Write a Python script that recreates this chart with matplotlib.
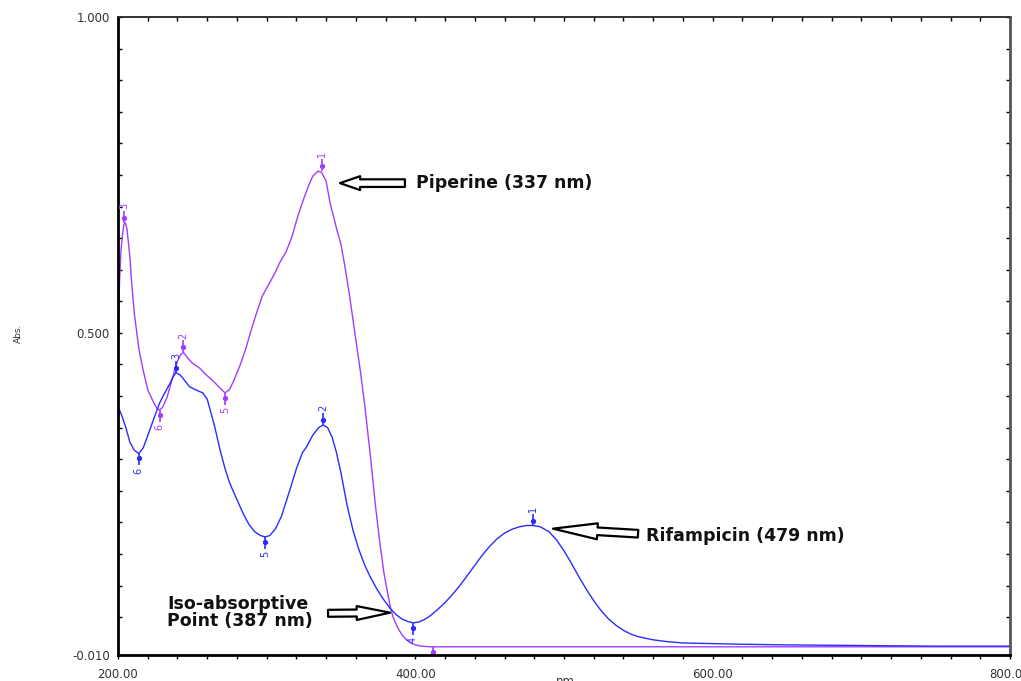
import matplotlib
matplotlib.use("Agg")
import matplotlib.pyplot as plt
from matplotlib.ticker import MultipleLocator, FixedLocator
from matplotlib.transforms import offset_copy

# --- spectra (wavelength nm, absorbance) ---
pip_nm = [200, 200.5, 201, 202, 203, 204, 205, 206, 208, 209, 211, 214, 217, 220,
          223.5, 226, 228, 230, 233, 235, 238, 240, 242, 244, 247, 250, 255, 260,
          264, 268, 272, 275, 278, 282, 286, 289, 293, 297, 301, 305, 309, 313,
          317, 321, 324, 328, 331, 334.5, 337, 340, 342.6, 345, 347, 350, 353,
          356, 359, 363, 366, 370, 373, 376, 379, 383, 385, 388, 391, 394, 397,
          400, 404, 410, 420, 450, 500, 600, 700, 800]
pip_abs = [0.45, 0.52, 0.58, 0.63, 0.655, 0.672, 0.674, 0.665, 0.62, 0.585, 0.53,
           0.475, 0.44, 0.41, 0.392, 0.381, 0.378, 0.382, 0.398, 0.415, 0.44,
           0.455, 0.465, 0.469, 0.46, 0.452, 0.444, 0.432, 0.424, 0.414, 0.405,
           0.41, 0.425, 0.448, 0.475, 0.5, 0.53, 0.558, 0.575, 0.592, 0.612,
           0.628, 0.652, 0.685, 0.706, 0.732, 0.748, 0.756, 0.754, 0.74, 0.706,
           0.684, 0.665, 0.64, 0.6, 0.555, 0.505, 0.44, 0.385, 0.3, 0.23, 0.17,
           0.118, 0.068, 0.05, 0.034, 0.022, 0.014, 0.009, 0.006, 0.004, 0.003,
           0.003, 0.003, 0.003, 0.003, 0.003, 0.003]

rif_nm = [200, 200.5, 201, 202.7, 205, 208, 211, 214, 217, 221.5, 225, 228, 231,
          235, 237, 239, 242, 245, 248, 252, 257, 260, 262, 265, 268.6, 272, 275,
          277, 280, 284, 288, 292, 296, 299, 302, 306, 310, 315.7, 320, 324, 327,
          331, 335, 338, 341, 344, 347, 350, 354, 358, 362, 366, 370, 374, 378,
          383, 387, 391, 395, 398.4, 402, 406, 410, 415, 420, 425, 430, 435, 440,
          445, 450, 455, 460, 465, 470, 475, 479, 484, 490, 495, 500, 505, 510,
          515, 520, 525, 530, 535, 540, 545, 550, 560, 570, 580, 600, 620, 650,
          700, 750, 800]
rif_abs = [0.33, 0.37, 0.378, 0.368, 0.352, 0.327, 0.314, 0.309, 0.318, 0.347,
           0.37, 0.389, 0.403, 0.42, 0.43, 0.437, 0.433, 0.424, 0.415, 0.41,
           0.405, 0.395, 0.378, 0.352, 0.315, 0.285, 0.263, 0.252, 0.236, 0.215,
           0.197, 0.185, 0.179, 0.177, 0.179, 0.19, 0.21, 0.252, 0.285, 0.31,
           0.32, 0.338, 0.35, 0.354, 0.35, 0.335, 0.31, 0.278, 0.228, 0.188,
           0.157, 0.132, 0.112, 0.095, 0.08, 0.064, 0.054, 0.047, 0.043, 0.041,
           0.042, 0.046, 0.052, 0.062, 0.073, 0.086, 0.1, 0.116, 0.132, 0.148,
           0.162, 0.174, 0.183, 0.189, 0.193, 0.195, 0.195, 0.193, 0.185, 0.172,
           0.155, 0.135, 0.114, 0.094, 0.076, 0.06, 0.047, 0.037, 0.029, 0.023,
           0.019, 0.014, 0.011, 0.009, 0.008, 0.007, 0.006, 0.005, 0.004, 0.004]

# peak picks: (nm, abs, label, is_max)
pip_peaks = [(337, 0.756, "1", True), (244, 0.469, "2", True), (204, 0.674, "3", True),
             (272, 0.405, "5", False), (228, 0.378, "6", False), (412, 0.003, "4", False)]
rif_peaks = [(479, 0.195, "1", True), (338, 0.354, "2", True), (239, 0.437, "3", True),
             (398.4, 0.041, "4", False), (299, 0.177, "5", False), (214, 0.309, "6", False)]

xtick_vals = [200, 400, 600, 800]
xtick_text = ["200.00", "400.00", "600.00", "800.00"]
ytick_vals = [-0.010, 0.500, 1.000]
ytick_text = ["-0.010", "0.500", "1.000"]

PURPLE = "#A23CFF"
BLUE = "#2B2BFF"

W, H = 1021, 681
fig = plt.figure(figsize=(W / 100, H / 100), dpi=100)
ax = fig.add_axes([118 / W, 1 - 655 / H, (1010 - 118) / W, (655 - 17) / H])

ax.plot(pip_nm, pip_abs, color=PURPLE, lw=1.0)
ax.plot(rif_nm, rif_abs, color=BLUE, lw=1.0)

# small peak markers with rotated numbers
for peaks, col in [(pip_peaks, PURPLE), (rif_peaks, BLUE)]:
    for x, y, lab, is_max in peaks:
        s = 1 if is_max else -1
        tr_line = offset_copy(ax.transData, fig=fig, x=0, y=s * 6, units="dots")
        tr_dot = offset_copy(ax.transData, fig=fig, x=0, y=s * 5, units="dots")
        tr_txt = offset_copy(ax.transData, fig=fig, x=0, y=s * 17, units="dots")
        ax.plot([x], [y], marker="|", ms=8, mew=1.2, color=col, transform=tr_line)
        ax.plot([x], [y], marker="o", ms=2.8, color=col, transform=tr_dot)
        ax.text(x, y, lab, color=col, fontsize=7, rotation=90, ha="center", va="center",
                transform=tr_txt, clip_on=True)

# hollow arrows and labels
def hollow_arrow(tip, tail, head_len, head_w, tail_w):
    ax.annotate("", xy=tip, xytext=tail,
                arrowprops=dict(arrowstyle=f"simple,head_length={head_len},head_width={head_w},tail_width={tail_w}",
                                fc="white", ec="black", lw=1.6, mutation_scale=10,
                                shrinkA=0, shrinkB=0))

hollow_arrow((349.3, 0.737), (393.0, 0.737), 1.45, 1.0, 0.55)
hollow_arrow((492.6, 0.190), (549.8, 0.182), 3.2, 1.15, 0.55)
hollow_arrow((383.0, 0.057), (341.3, 0.056), 2.4, 1.0, 0.5)

bold = dict(fontsize=12.5, fontweight="bold", family="DejaVu Sans", color="#111111")
ax.text(400.7, 0.737, "Piperine (337 nm)", ha="left", va="center", **bold)
ax.text(555.0, 0.178, "Rifampicin (479 nm)", ha="left", va="center", **bold)
ax.text(233.0, 0.057, "Iso-absorptive\nPoint (387 nm)", ha="left", va="center",
        linespacing=0.95, **bold)

# axes styling
ax.set_xlim(200, 800)
ax.set_ylim(-0.010, 1.000)
ax.xaxis.set_major_locator(FixedLocator(xtick_vals))
ax.set_xticklabels(xtick_text)
ax.xaxis.set_minor_locator(MultipleLocator(20))
ax.yaxis.set_major_locator(FixedLocator(ytick_vals))
ax.set_yticklabels(ytick_text)
ax.yaxis.set_minor_locator(FixedLocator([round(0.05 * k, 2) for k in range(1, 20)]))

ax.tick_params(axis="both", which="both", labelsize=8.5, labelcolor="#333333",
               color="black", width=1.0)
ax.tick_params(axis="y", which="both", direction="in", length=3, left=True, right=True, pad=6)
ax.tick_params(axis="x", which="both", direction="out", length=3, top=False, pad=6)

# inward ticks along the top edge
top = ax.secondary_xaxis("top")
top.xaxis.set_major_locator(MultipleLocator(20))
top.tick_params(direction="in", length=3, width=1.0, labeltop=False)
top.spines["top"].set_linewidth(1.2)
top.spines["top"].set_color("#333333")

for side, lw, col in [("left", 2.0, "black"), ("bottom", 2.0, "black"),
                      ("top", 1.2, "#333333"), ("right", 2.0, "#555555")]:
    ax.spines[side].set_linewidth(lw)
    ax.spines[side].set_color(col)

fig.text(18 / W, 1 - 333 / H, "Abs.", rotation=90, fontsize=6.5, color="#333333",
         ha="center", va="center")
fig.text(567 / W, 1 - 675 / H, "nm.", fontsize=8.5, color="#333333", ha="center", va="top")

fig.savefig("out.png", dpi=100)
